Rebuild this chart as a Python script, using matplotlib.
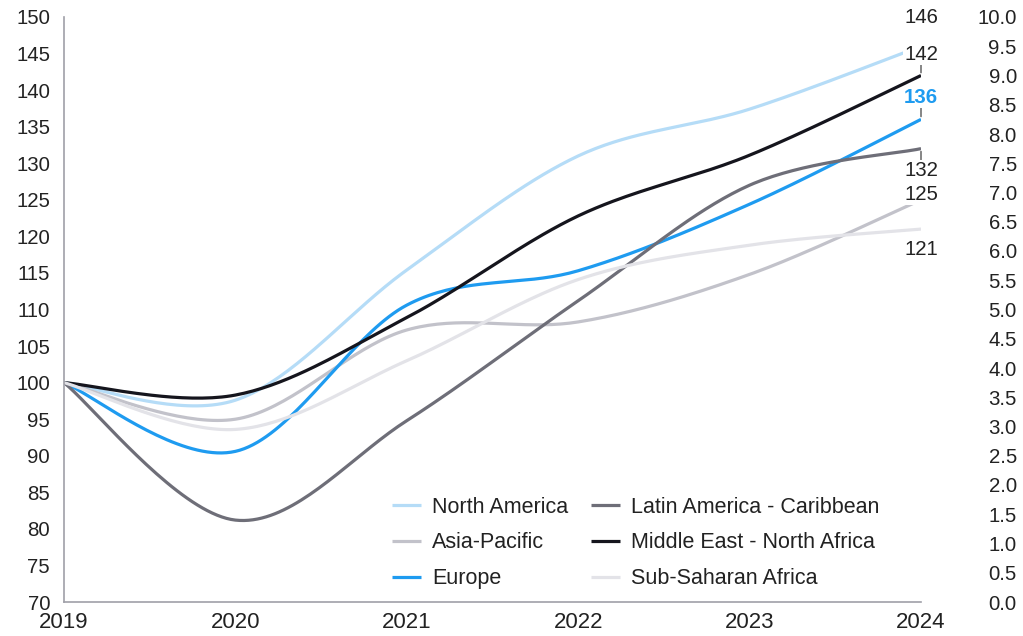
import numpy as np
import matplotlib
matplotlib.use("Agg")
import matplotlib.pyplot as plt

plt.rcParams['font.family'] = ['Liberation Sans', 'DejaVu Sans']

years = [2019, 2020, 2021, 2022, 2023, 2024]

north_america = [100, 97.6, 115.4, 131.0, 137.4, 146]
asia_pacific = [100, 95.0, 107.2, 108.3, 114.8, 125]
europe = [100, 90.6, 110.6, 115.3, 124.4, 136]
latin_america = [100, 81.2, 94.8, 111.2, 127.0, 132]
middle_east = [100, 98.3, 108.9, 122.8, 131.1, 142]
sub_saharan = [100, 93.6, 103.0, 114.1, 118.8, 121]

series = [
    ("North America", north_america, "#b5dcf7"),
    ("Asia-Pacific", asia_pacific, "#c2c2ca"),
    ("Europe", europe, "#1e9bf0"),
    ("Latin America - Caribbean", latin_america, "#6e6e78"),
    ("Middle East - North Africa", middle_east, "#15151d"),
    ("Sub-Saharan Africa", sub_saharan, "#e3e3e8"),
]

left_ticks = list(range(70, 151, 5))
right_ticks = [i * 0.5 for i in range(21)]


def smooth(x, y, n=40):
    # catmull-rom curve through the yearly points
    x = np.asarray(x, float)
    y = np.asarray(y, float)
    px = np.concatenate([[x[0]], x, [x[-1]]])
    py = np.concatenate([[y[0]], y, [y[-1]]])
    xs, ys = [], []
    t = np.linspace(0, 1, n)
    for i in range(1, len(px) - 2):
        for p, out in ((px, xs), (py, ys)):
            p0, p1, p2, p3 = p[i - 1], p[i], p[i + 1], p[i + 2]
            m1 = (p2 - p0) / 2
            m2 = (p3 - p1) / 2
            h00 = 2 * t**3 - 3 * t**2 + 1
            h10 = t**3 - 2 * t**2 + t
            h01 = -2 * t**3 + 3 * t**2
            h11 = t**3 - t**2
            out.append(h00 * p1 + h10 * m1 + h01 * p2 + h11 * m2)
    return np.concatenate(xs), np.concatenate(ys)


fig = plt.figure(figsize=(10.23, 6.36), dpi=100)
ax = fig.add_axes([64 / 1023, 34 / 636, 857 / 1023, 585 / 636])

for name, vals, col in series:
    sx, sy = smooth(years, vals)
    ax.plot(sx, sy, color=col, lw=2.3, label=name, solid_capstyle='butt')

ax.set_xlim(2019, 2024)
ax.set_ylim(70, 150)
ax.set_xticks(years)
ax.set_yticks(left_ticks)
ax.tick_params(axis='both', length=0, colors='#222222')
ax.tick_params(axis='y', pad=10, labelsize=14.7)
ax.tick_params(axis='x', pad=7, labelsize=16)
for s in ['top', 'right']:
    ax.spines[s].set_visible(False)
for s in ['left', 'bottom']:
    ax.spines[s].set_color('#a0a0a8')
    ax.spines[s].set_linewidth(1.2)

ax2 = ax.twinx()
ax2.set_ylim(0, 10)
ax2.set_yticks(right_ticks)
ax2.set_yticklabels([f"{v:.1f}" for v in right_ticks], ha='right')
ax2.tick_params(axis='y', length=0, labelsize=14.7, colors='#222222', pad=69)
for s in ax2.spines.values():
    s.set_visible(False)

# end-of-line value labels: (value, offset in points, colour, bold, leader)
end_labels = [
    (north_america[-1], 21, '#222222', False, False),
    (middle_east[-1], 15, '#222222', False, True),
    (europe[-1], 16, '#1e9bf0', True, True),
    (latin_america[-1], -16, '#222222', False, True),
    (asia_pacific[-1], 4, '#222222', False, False),
    (sub_saharan[-1], -15, '#222222', False, False),
]
for val, off, col, bold, leader in end_labels:
    if leader:
        sign = 1 if off > 0 else -1
        ax.annotate('', xy=(2024, val), xytext=(0, sign * 8), textcoords='offset points',
                    annotation_clip=False,
                    arrowprops=dict(arrowstyle='-', color='#555555', lw=1, shrinkA=0, shrinkB=2))
    ax.annotate(f"{val:.0f}", xy=(2024, val), xytext=(0, off), textcoords='offset points',
                ha='center', va='center', fontsize=14.7, color=col,
                fontweight='bold' if bold else 'normal', annotation_clip=False,
                bbox=dict(boxstyle='square,pad=0.05', fc='white', ec='none'))

ax.legend(loc='lower left', bbox_to_anchor=(0.383, 0.022), ncol=2, frameon=False, fontsize=15.5,
          borderpad=0, borderaxespad=0,
          handlelength=1.35, columnspacing=1.07, labelspacing=0.68, handletextpad=0.5,
          labelcolor='#222222')

fig.savefig('out.png', dpi=100)
